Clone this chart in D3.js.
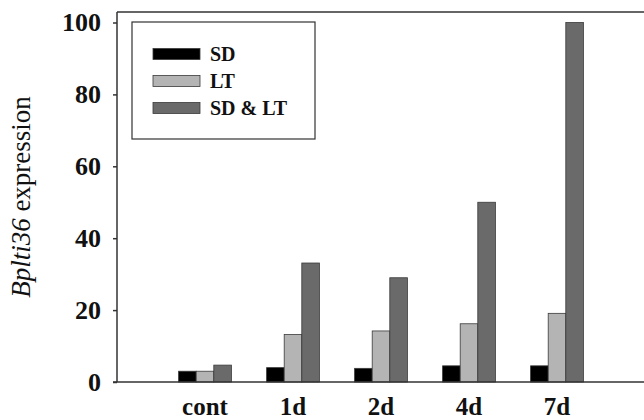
<!DOCTYPE html>
<html>
<head>
<meta charset="utf-8">
<script src="https://cdn.jsdelivr.net/npm/d3@7"></script>
<style>
  body { margin: 0; background: #fff; }
  svg { display: block; font-family: "Liberation Serif", "Times New Roman", serif; }
</style>
</head>
<body>
<svg id="chart" width="644" height="420"></svg>
<script>
const categories = ['cont', '1d', '2d', '4d', '7d']
const seriesNames = ['SD', 'LT', 'SD & LT']
const sdValues = [3, 4, 3.8, 4.5, 4.5]
const ltValues = [3, 13.2, 14.2, 16.2, 19.1]
const sdLtValues = [4.7, 33.1, 29, 50, 100]
const yTicks = [0, 20, 40, 60, 80, 100]
const colors = ['#000000', '#b4b4b4', '#6a6a6a']

const rows = categories.map((c, i) => ({
  cat: c,
  vals: [sdValues[i], ltValues[i], sdLtValues[i]]
}))

const svg = d3.select('#chart')
const frame = {left: 117, right: 644, top: 12, bottom: 382}

// x scale
const x = d3.scaleBand()
  .domain(categories)
  .range([161, 601])
  .paddingInner(0)

const x1 = d3.scaleBand()
  .domain(seriesNames)
  .range([x.bandwidth() * 0.2, x.bandwidth() * 0.8])

// y scale
const y = d3.scaleLinear()
  .domain([0, 100])
  .range([frame.bottom, 22.5])

// bars
const groups = svg.append('g')
  .selectAll('g')
  .data(rows)
  .join('g')
    .attr('transform', d => 'translate(' + x(d.cat) + ',0)')

groups.selectAll('rect')
  .data(d => d.vals.map((v, i) => ({ key: seriesNames[i], v, i })))
  .join('rect')
    .attr('x', d => x1(d.key))
    .attr('y', d => y(d.v))
    .attr('width', x1.bandwidth())
    .attr('height', d => y(0) - y(d.v))
    .attr('fill', d => colors[d.i])
    .attr('stroke', '#3a3a3a')
    .attr('stroke-width', 0.8)

// y axis
const yAxis = svg.append('g')
  .attr('transform', 'translate(' + frame.left + ',0)')
  .call(d3.axisLeft(y).tickValues(yTicks).tickSize(4).tickSizeOuter(0).tickPadding(12))
yAxis.select('.domain').remove()
yAxis.selectAll('line').attr('stroke', '#333').attr('stroke-width', 1.5)
yAxis.selectAll('text')
  .attr('font-size', 26)
  .attr('font-weight', 'bold')
  .attr('fill', '#111')
  .attr('font-family', '"Liberation Serif", serif')

// x labels
const xAxis = svg.append('g')
  .attr('transform', 'translate(0,' + frame.bottom + ')')
  .call(d3.axisBottom(x).tickSize(0).tickPadding(15))
xAxis.select('.domain').remove()
xAxis.selectAll('text')
  .attr('font-size', 25)
  .attr('font-weight', 'bold')
  .attr('fill', '#111')
  .attr('font-family', '"Liberation Serif", serif')

// frame lines
svg.append('line').attr('x1', frame.left).attr('x2', frame.left).attr('y1', frame.top).attr('y2', frame.bottom)
  .attr('stroke', '#333').attr('stroke-width', 1.5)
svg.append('line').attr('x1', 113).attr('x2', frame.right).attr('y1', frame.bottom).attr('y2', frame.bottom)
  .attr('stroke', '#333').attr('stroke-width', 1.5)
svg.append('line').attr('x1', frame.left).attr('x2', frame.right).attr('y1', frame.top).attr('y2', frame.top)
  .attr('stroke', '#333').attr('stroke-width', 1.5)

// y label
const yl = svg.append('text')
  .attr('transform', 'translate(30,197) rotate(-90)')
  .attr('text-anchor', 'middle')
  .attr('font-size', 27)
  .attr('fill', '#111')
yl.append('tspan').attr('font-style', 'italic').text('Bplti36')
yl.append('tspan').text(' expression')

// legend
const legend = svg.append('g')
legend.append('rect')
  .attr('x', 132).attr('y', 22).attr('width', 183).attr('height', 117)
  .attr('fill', '#fff').attr('stroke', '#333').attr('stroke-width', 1.2)

const ly = d3.scalePoint().domain(seriesNames).range([54, 108])
const items = legend.selectAll('g.item')
  .data(seriesNames)
  .join('g')
    .attr('class', 'item')
    .attr('transform', d => 'translate(0,' + ly(d) + ')')
items.append('rect')
  .attr('x', 153).attr('y', -5.5).attr('width', 47).attr('height', 11)
  .attr('fill', (d, i) => colors[i])
  .attr('stroke', '#3a3a3a').attr('stroke-width', 0.8)
items.append('text')
  .attr('x', 210).attr('y', 7)
  .attr('font-size', 20)
  .attr('font-weight', 'bold')
  .attr('fill', '#111')
  .text(d => d)
</script>
</body>
</html>
